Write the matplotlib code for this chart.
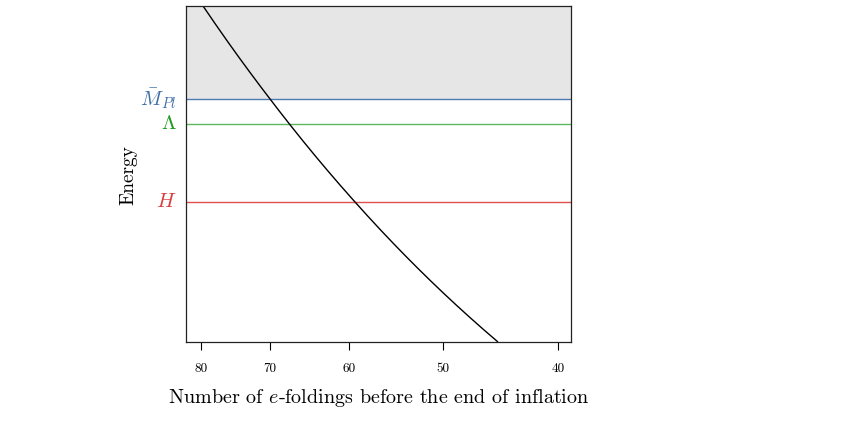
import matplotlib
matplotlib.use("Agg")
import matplotlib.pyplot as plt
from matplotlib.path import Path
from matplotlib.patches import PathPatch

plt.rcParams['font.family'] = ['cmr10', 'DejaVu Serif']
plt.rcParams['mathtext.fontset'] = 'cm'
plt.rcParams['axes.unicode_minus'] = False
plt.rcParams['axes.formatter.use_mathtext'] = True

# Data (arbitrary log-energy units, 0..1);
# the curve is straight in (N, energy), drawn on a logarithmic N axis
n_efolds = [79.68, 69.96, 59.32, 44.94]
energy = [1.0, 0.7232, 0.4167, 0.0]

level_names = [r"$\bar{M}_{Pl}$", r"$\Lambda$", r"$H$"]
level_values = [0.7232, 0.6488, 0.4167]
level_line_colors = ["#4f7cb0", "#5cb85c", "#e05050"]
level_text_colors = ["#3f6fa8", "#1f9a1f", "#d84040"]

xticks = [80, 70, 60, 50, 40]
xticklabels = ["80", "70", "60", "50", "40"]

fig = plt.figure(figsize=(8.51, 4.46), dpi=100)
ax = fig.add_axes([186/851, 1-342/446, (571-186)/851, (342-6)/446])

ax.set_xscale('log')
ax.set_xlim(82.36, 39.0)
ax.set_ylim(0, 1)

# gray region above the Planck mass
ax.axhspan(level_values[0], 1, color="#e6e6e6", zorder=0, lw=0)

for v, lc, tc, name in zip(level_values, level_line_colors, level_text_colors, level_names):
    ax.axhline(v, color=lc, lw=1.0, zorder=1)
    ax.text(-0.025, v, name, transform=ax.get_yaxis_transform(), ha='right', va='center',
            color=tc, fontsize=15)

# straight segments in data space, subdivided by matplotlib so that they
# render curved through the log transform
path = Path(list(zip(n_efolds, energy))).interpolated(80)
ax.add_patch(PathPatch(path, facecolor='none', edgecolor='black', lw=1.0, zorder=2))

ax.set_xticks(xticks)
ax.set_xticklabels(xticklabels)
ax.xaxis.set_minor_locator(matplotlib.ticker.NullLocator())
ax.set_yticks([])
ax.tick_params(axis='x', direction='out', length=6, width=0.8, pad=9, labelsize=9.5)

for s in ax.spines.values():
    s.set_linewidth(0.9)
    s.set_color('#222222')

fig.text(128/851, 1-175/446, "Energy", rotation=90, ha='center', va='center', fontsize=14)
fig.text(379/851, 1-398/446, r"Number of $e$-foldings before the end of inflation",
         ha='center', va='center', fontsize=14.5)

fig.savefig("out.png", dpi=100)
